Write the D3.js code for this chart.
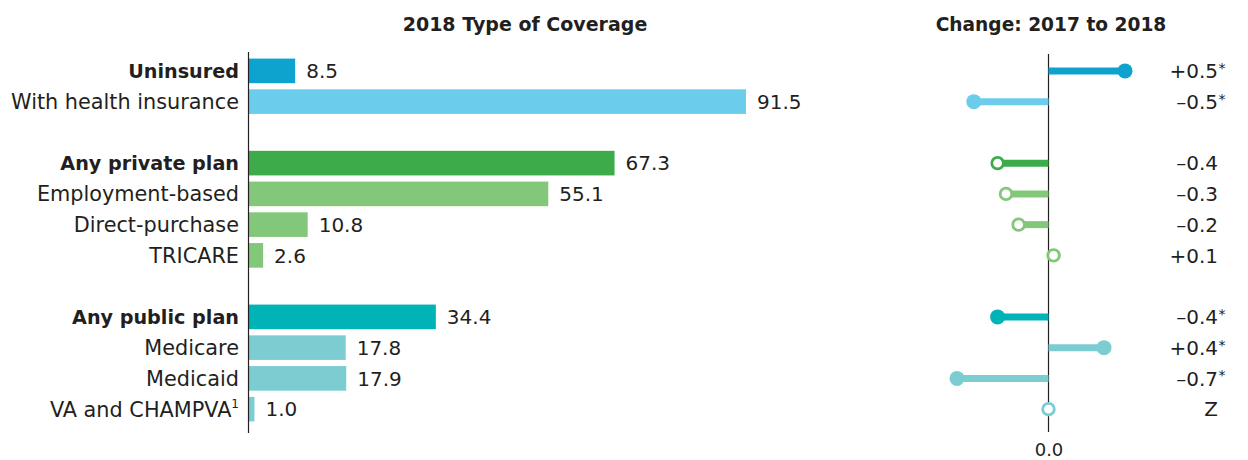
<!DOCTYPE html>
<html><head><meta charset="utf-8">
<script src="https://cdn.jsdelivr.net/npm/d3@7"></script>
<style>body{margin:0;background:#fff}svg{display:block}text{font-family:"DejaVu Sans",sans-serif;fill:#231f20}</style>
</head><body><svg id="c" width="1248" height="460"></svg>
<script>
const categories = ["Uninsured","With health insurance","Any private plan","Employment-based","Direct-purchase","TRICARE","Any public plan","Medicare","Medicaid","VA and CHAMPVA"];
const slots = [0,1,3,4,5,6,8,9,10,11];
const boldRows = [true,false,true,false,false,false,true,false,false,false];
const coverage = [8.5,91.5,67.3,55.1,10.8,2.6,34.4,17.8,17.9,1.0];
const change = [0.55,-0.53,-0.36,-0.30,-0.21,0.04,-0.36,0.40,-0.65,0.0];
const changeLabels = ["+0.5","\u20130.5","\u20130.4","\u20130.3","\u20130.2","+0.1","\u20130.4","+0.4","\u20130.7","Z"];
const significant = [true,true,false,false,false,false,true,true,true,false];
const colors = ["#0ea3cf","#6bcdeb","#3dab4a","#83c77a","#83c77a","#83c77a","#00b3b6","#7bcdd2","#7bcdd2","#7bcdd2"];

const svg = d3.select("#c");
const y = d3.scaleBand().domain(d3.range(12)).range([55.5,424.5]).paddingInner(0.2).paddingOuter(0.1);
const x = d3.scaleLinear().domain([0,91.5]).range([249,746]);
const xc = d3.scaleLinear().domain([-1,1]).range([1048-140,1048+140]);

svg.append("text").attr("x",525).attr("y",31).attr("text-anchor","middle").attr("font-weight","bold").attr("font-size",19).text("2018 Type of Coverage");
svg.append("text").attr("x",1051).attr("y",31).attr("text-anchor","middle").attr("font-weight","bold").attr("font-size",18.6).text("Change: 2017 to 2018");

const rows = categories.map((c,i)=>({c,i,slot:slots[i]}));
const cy = d => y(d.slot)+y.bandwidth()/2;

svg.selectAll("rect.bar").data(rows).join("rect").attr("class","bar")
  .attr("x",x(0)).attr("y",d=>y(d.slot)).attr("width",d=>x(coverage[d.i])-x(0)).attr("height",y.bandwidth())
  .attr("fill",d=>colors[d.i]);

svg.selectAll("text.val").data(rows).join("text").attr("class","val")
  .attr("x",d=>x(coverage[d.i])+11).attr("y",d=>cy(d)).attr("dy","0.36em").attr("font-size",20)
  .text(d=>coverage[d.i].toFixed(1));

const lab = svg.selectAll("text.lab").data(rows).join("text").attr("class","lab")
  .attr("x",239).attr("y",d=>cy(d)).attr("dy","0.36em").attr("text-anchor","end")
  .attr("font-size",d=>boldRows[d.i]?19.2:20.8)
  .attr("font-weight",d=>boldRows[d.i]?"bold":"normal");
lab.append("tspan").text(d=>d.c);
lab.filter(d=>d.i===9).append("tspan").attr("font-size",12).attr("dy","-0.7em").text("1");

svg.append("line").attr("x1",248.5).attr("x2",248.5).attr("y1",52).attr("y2",433).attr("stroke","#231f20").attr("stroke-width",1.2);
svg.append("line").attr("x1",1048.5).attr("x2",1048.5).attr("y1",54).attr("y2",432).attr("stroke","#231f20").attr("stroke-width",1.2);

svg.selectAll("line.stem").data(rows).join("line").attr("class","stem")
  .attr("x1",xc(0)+0.5).attr("x2",d=>xc(change[d.i])).attr("y1",cy).attr("y2",cy)
  .attr("stroke",d=>colors[d.i]).attr("stroke-width",7);
svg.selectAll("circle.dot").data(rows).join("circle").attr("class","dot")
  .attr("cx",d=>xc(change[d.i])+(change[d.i]===0?0.5:0)).attr("cy",cy)
  .attr("r",d=>significant[d.i]?7.5:5.8)
  .attr("fill",d=>significant[d.i]?colors[d.i]:"#fff")
  .attr("stroke",d=>colors[d.i]).attr("stroke-width",d=>significant[d.i]?0:2.8);

svg.selectAll("text.chg").data(rows).join("text").attr("class","chg")
  .attr("x",1218).attr("y",cy).attr("dy","0.36em").attr("text-anchor","end").attr("font-size",20)
  .text(d=>changeLabels[d.i]);
svg.selectAll("text.ast").data(rows.filter(d=>significant[d.i])).join("text").attr("class","ast")
  .attr("x",1218.5).attr("y",cy).attr("dy","0.15em").attr("font-size",14).text("*");

svg.append("g").attr("transform","translate(0.5,432)")
  .call(d3.axisBottom(xc).tickValues([0]).tickFormat(d3.format(".1f")).tickSize(0).tickPadding(11))
  .call(g=>g.select(".domain").remove())
  .call(g=>g.selectAll("text").attr("font-size",18).attr("font-family","DejaVu Sans").attr("fill","#231f20"));
</script></body></html>
